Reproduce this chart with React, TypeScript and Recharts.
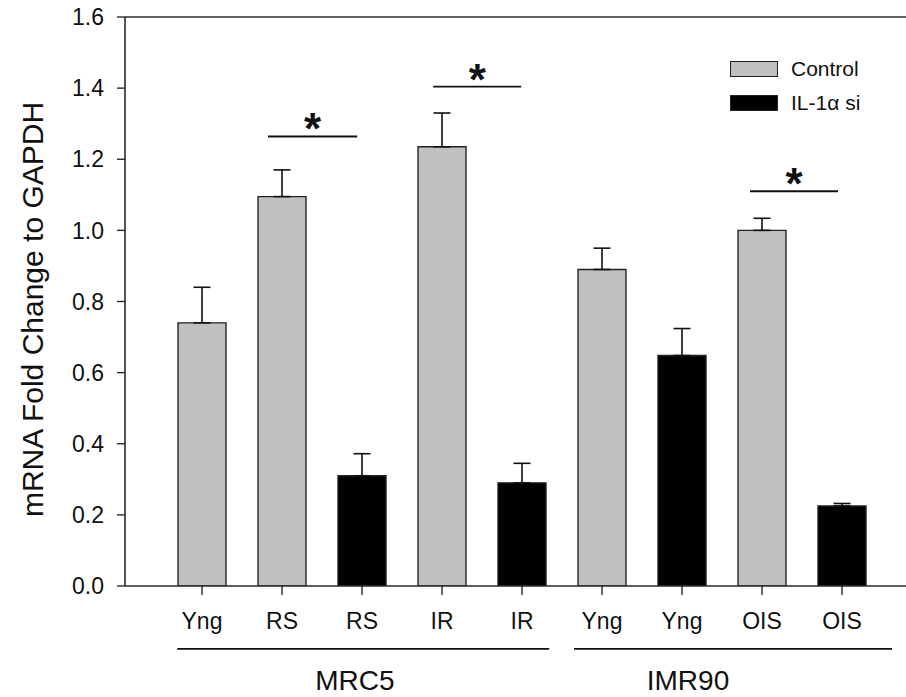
import React from 'react';
import { BarChart, Bar, XAxis, YAxis, ErrorBar, Cell, ReferenceLine, Legend } from 'recharts';

const categories = ['Yng', 'RS', 'RS', 'IR', 'IR', 'Yng', 'Yng', 'OIS', 'OIS'];
const treatments = ['Control', 'Control', 'IL-1α si', 'Control', 'IL-1α si', 'Control', 'IL-1α si', 'Control', 'IL-1α si'];
const values = [0.74, 1.095, 0.31, 1.235, 0.29, 0.89, 0.648, 1.0, 0.225];
const errors = [0.10, 0.075, 0.062, 0.095, 0.055, 0.06, 0.076, 0.034, 0.007];
const yTicks = [0, 0.2, 0.4, 0.6, 0.8, 1.0, 1.2, 1.4, 1.6];
const seriesNames = ['Control', 'IL-1α si'];
const seriesColors = ['#c0c0c0', '#000000'];

// significance bars: [start position, end position, height] in category-index units
const sigStart = [0.825, 2.89, 6.85];
const sigEnd = [1.94, 3.99, 7.95];
const sigY = [1.264, 1.404, 1.11];

// groups of cell lines
const groupNames = ['MRC5', 'IMR90'];
const groupLabelPos = [1.91, 6.075];
const groupLineStart = [-0.31, 4.65];
const groupLineEnd = [4.34, 8.625];
const groupLineY = -0.177;

const FONT = '"Liberation Sans", Arial, Helvetica, sans-serif';
const AXIS = '#2a2a2a';

const data = categories.map((c, i) => ({
  id: i,
  cat: c,
  series: treatments[i],
  value: values[i],
  err: [0, errors[i]],
}));

const LegendBox = () => (
  <div style={{ fontFamily: FONT }}>
    {seriesNames.map((n, i) => (
      <div key={n} style={{ display: 'flex', alignItems: 'center', height: 34 }}>
        <div
          style={{
            width: 46,
            height: 14,
            background: seriesColors[i],
            border: '1.5px solid #222',
            marginRight: 13,
          }}
        />
        <span style={{ fontSize: 21, color: '#111' }}>{n}</span>
      </div>
    ))}
  </div>
);

const GroupTick = (props: any) => {
  const { x, y, payload } = props;
  const idx = groupLabelPos.indexOf(payload.value);
  return (
    <text x={x} y={y} dy={44} textAnchor="middle" fontFamily={FONT} fontSize={28} fill="#111">
      {idx >= 0 ? groupNames[idx] : ''}
    </text>
  );
};

const YLabel = (props: any) => {
  const vb = props.viewBox || { x: 0, y: 17, width: 125, height: 569 };
  const cx = 32;
  const cy = vb.y + vb.height / 2 + 8;
  return (
    <text
      x={cx}
      y={cy}
      transform={`rotate(-90, ${cx}, ${cy})`}
      textAnchor="middle"
      dominantBaseline="central"
      fontFamily={FONT}
      fontSize={30}
      fill="#111"
    >
      mRNA Fold Change to GAPDH
    </text>
  );
};

const Star = (props: any) => {
  const vb = props.viewBox;
  return (
    <text
      x={vb.x + vb.width / 2}
      y={vb.y + 8}
      textAnchor="middle"
      fontFamily={FONT}
      fontWeight="bold"
      fontSize={44}
      fill="#111"
    >
      *
    </text>
  );
};

export default function App() {
  return (
    <div style={{ position: 'absolute', left: 0, top: 0, width: 906, height: 697, background: '#fff' }}>
      <BarChart
        width={906}
        height={697}
        data={data}
        margin={{ top: 17, right: 0, bottom: 0, left: 0 }}
        barSize={48}
      >
        <XAxis
          dataKey="id"
          type="category"
          height={60}
          padding={{ left: 37, right: 24 }}
          tickFormatter={(v: any) => categories[Number(v)]}
          tickSize={9}
          tickMargin={18}
          tick={{ fontFamily: FONT, fontSize: 23, fill: '#111' }}
          axisLine={{ stroke: AXIS, strokeWidth: 1.6 }}
          tickLine={{ stroke: AXIS, strokeWidth: 1.4 }}
          interval={0}
        />
        <XAxis
          xAxisId="num"
          dataKey="id"
          type="number"
          domain={[-0.9625, 8.8]}
          allowDataOverflow
          height={51}
          ticks={groupLabelPos}
          tick={<GroupTick />}
          tickSize={0}
          tickMargin={0}
          axisLine={false}
          tickLine={false}
          interval={0}
        />
        <YAxis
          width={125}
          domain={[0, 1.6]}
          ticks={yTicks}
          allowDataOverflow
          tickFormatter={(v: number) => v.toFixed(1)}
          tickSize={8}
          tickMargin={13}
          tick={{ fontFamily: FONT, fontSize: 23, fill: '#111' }}
          axisLine={{ stroke: AXIS, strokeWidth: 1.6 }}
          tickLine={{ stroke: AXIS, strokeWidth: 1.4 }}
          label={<YLabel />}
        />
        <ReferenceLine y={1.6} stroke={AXIS} strokeWidth={1.6} />
        <Bar dataKey="value" isAnimationActive={false} stroke="#222" strokeWidth={1.4}>
          {data.map((d, i) => (
            <Cell key={i} fill={seriesColors[seriesNames.indexOf(d.series)]} />
          ))}
          <ErrorBar dataKey="err" direction="y" width={8.5} stroke="#111" strokeWidth={1.6} isAnimationActive={false} />
        </Bar>
        {sigY.map((y, i) => (
          <ReferenceLine
            key={'sig' + i}
            xAxisId="num"
            segment={[{ x: sigStart[i], y }, { x: sigEnd[i], y }]}
            stroke="#111"
            strokeWidth={1.8}
            label={<Star />}
          />
        ))}
        {groupNames.map((g, i) => (
          <ReferenceLine
            key={'grp' + i}
            xAxisId="num"
            ifOverflow="visible"
            segment={[{ x: groupLineStart[i], y: groupLineY }, { x: groupLineEnd[i], y: groupLineY }]}
            stroke="#111"
            strokeWidth={1.8}
          />
        ))}
        <Legend
          layout="vertical"
          align="center"
          verticalAlign="middle"
          wrapperStyle={{ top: 52, left: 730, width: 176 }}
          content={<LegendBox />}
        />
      </BarChart>
    </div>
  );
}
